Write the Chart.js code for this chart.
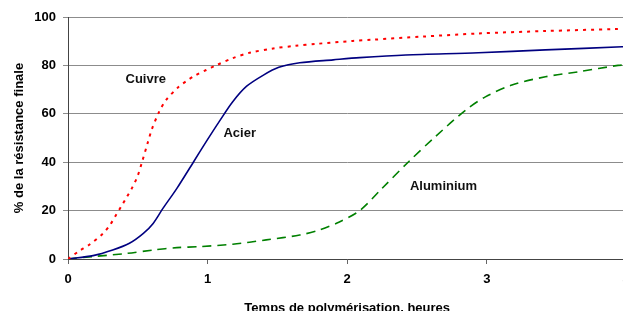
<!DOCTYPE html>
<html>
<head>
<meta charset="utf-8">
<script src="https://cdn.jsdelivr.net/npm/chart.js@4"></script>
<style>
  html, body { margin: 0; padding: 0; background: #fff; overflow: hidden; }
  #wrap { width: 638px; height: 316px; }
</style>
</head>
<body>
<div id="wrap"><canvas id="chart"></canvas></div>
<script>
// data (x = heures, y = %)
const cuivreX = [0, 0.08, 0.15, 0.25, 0.3, 0.34, 0.38, 0.42, 0.46, 0.5, 0.53, 0.57, 0.6, 0.65, 0.7, 0.79, 0.85, 0.91, 0.99, 1.06, 1.18, 1.3, 1.47, 1.63, 1.78, 2.04, 2.18, 2.54, 2.94, 3.42, 3.92, 4];
const cuivreY = [0, 3.3, 5.8, 10.5, 14, 17.8, 21.6, 25.5, 29.5, 34.5, 40, 47.8, 53.5, 60.5, 65.5, 71, 73.6, 75.8, 78.1, 80, 83, 85.2, 87, 88.1, 88.9, 90.1, 90.6, 91.9, 93.2, 94.2, 95, 95.1];

const acierX = [0, 0.18, 0.32, 0.44, 0.54, 0.61, 0.68, 0.78, 0.9, 0.99, 1.09, 1.18, 1.28, 1.4, 1.51, 1.66, 1.9, 2.09, 2.42, 2.94, 3.42, 3.97, 4];
const acierY = [0, 1.4, 3.7, 6.5, 10.6, 14.7, 20.9, 29.2, 40.2, 48.5, 57.4, 65, 71.4, 76, 79.2, 81.1, 82.3, 83.2, 84.3, 85.2, 86.4, 87.7, 87.8];

const aluX = [0, 0.18, 0.42, 0.61, 0.78, 0.94, 1.18, 1.42, 1.66, 1.8, 1.94, 2.09, 2.25, 2.44, 2.63, 2.85, 2.99, 3.18, 3.42, 3.66, 3.94, 4];
const aluY = [0, 1, 2.3, 3.7, 4.7, 5.1, 6.1, 7.9, 9.9, 12, 15.2, 20, 29.2, 40.2, 50.5, 61.6, 67, 71.9, 75.3, 77.4, 80, 80.2];

const xTicks = [0, 1, 2, 3, 4];
const yTicks = [0, 20, 40, 60, 80, 100];

const seriesLabels = [
  { text: "Cuivre", x: 0.557, y: 74.2 },
  { text: "Acier", x: 1.23, y: 51.9 },
  { text: "Aluminium", x: 2.69, y: 29.9 }
];

const pts = (xs, ys) => xs.map((x, i) => ({ x: x, y: ys[i] }));

const textLabels = {
  id: "textLabels",
  afterDatasetsDraw(chart) {
    const { ctx, scales } = chart;
    ctx.save();
    ctx.font = "bold 13px 'Liberation Sans', Arial, sans-serif";
    ctx.fillStyle = "#111";
    ctx.textAlign = "center";
    ctx.textBaseline = "middle";
    seriesLabels.forEach(l => {
      ctx.fillText(l.text, scales.x.getPixelForValue(l.x), scales.y.getPixelForValue(l.y));
    });
    ctx.restore();
  }
};

const font = { family: "'Liberation Sans', Arial, sans-serif", weight: "bold", size: 13 };

new Chart(document.getElementById("chart"), {
  type: "line",
  data: {
    datasets: [
      {
        label: "Cuivre",
        data: pts(cuivreX, cuivreY),
        borderColor: "#ff0000",
        borderWidth: 2,
        borderDash: [3, 5],
        pointRadius: 0,
        tension: 0.3
      },
      {
        label: "Acier",
        data: pts(acierX, acierY),
        borderColor: "#000080",
        borderWidth: 1.6,
        pointRadius: 0,
        tension: 0.3
      },
      {
        label: "Aluminium",
        data: pts(aluX, aluY),
        borderColor: "#008000",
        borderWidth: 1.6,
        borderDash: [9, 6],
        pointRadius: 0,
        tension: 0.3
      }
    ]
  },
  options: {
    responsive: true,
    maintainAspectRatio: false,
    animation: false,
    layout: { padding: { left: 0, right: 11, top: 17, bottom: 0 } },
    plugins: { legend: { display: false }, tooltip: { enabled: false } },
    scales: {
      x: {
        type: "linear",
        min: 0,
        max: 4,
        afterBuildTicks: s => { s.ticks = xTicks.map(v => ({ value: v })); },
        afterFit: s => { s.height = 57; },
        ticks: { color: "#000", font: font, padding: 8 },
        grid: { drawOnChartArea: false, drawTicks: true, tickLength: 5, color: "#666" },
        border: { color: "#444", width: 1 },
        title: {
          display: true,
          text: "Temps de polymérisation, heures",
          color: "#000",
          font: font,
          padding: { top: 6, bottom: 0 }
        }
      },
      y: {
        min: 0,
        max: 100,
        afterBuildTicks: s => { s.ticks = yTicks.map(v => ({ value: v })); },
        afterFit: s => { s.width = 68; },
        ticks: { color: "#000", font: font, padding: 7 },
        grid: { color: "#8c8c8c", tickLength: 5, lineWidth: 1 },
        border: { color: "#444", width: 1 },
        title: {
          display: true,
          text: "% de la résistance finale",
          color: "#000",
          font: font,
          padding: { top: 12, bottom: 0 }
        }
      }
    }
  },
  plugins: [textLabels]
});
</script>
</body>
</html>
